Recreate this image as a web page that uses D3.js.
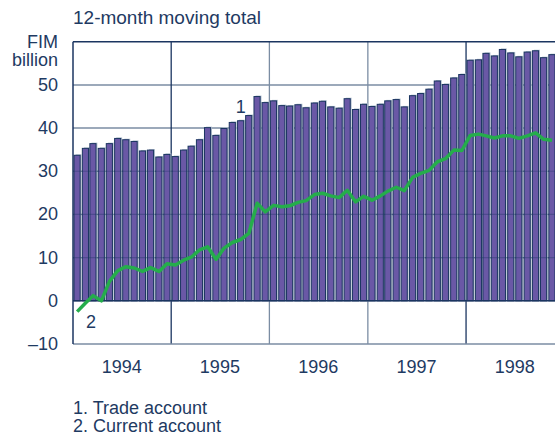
<!DOCTYPE html>
<html>
<head>
<meta charset="utf-8">
<script src="https://cdn.jsdelivr.net/npm/d3@7"></script>
<style>
body { margin: 0; background: #fff; }
svg { display: block; font-family: "Liberation Sans", Arial, sans-serif; }
</style>
</head>
<body>
<svg></svg>
<script>
var width = 555
var height = 435

var years = [1994, 1995, 1996, 1997, 1998]
var yTicks = [-10, 0, 10, 20, 30, 40, 50]

// 1. Trade account, 12-month moving total, Jan 1994 - Nov 1998
var trade = [
	33.7, 35.3, 36.4, 35.3, 36.4, 37.6, 37.3, 36.9, 34.7, 34.9, 33.3, 33.9,
	33.4, 34.9, 35.8, 37.3, 40.1, 38.3, 39.9, 41.3, 41.7, 42.9, 47.3, 45.9,
	46.3, 45.2, 45.1, 45.4, 44.7, 45.8, 46.2, 44.9, 44.6, 46.8, 44.3, 45.5,
	45.0, 45.5, 46.3, 46.6, 44.9, 47.5, 48.0, 49.0, 50.9, 50.1, 51.6, 52.4,
	55.7, 55.8, 57.3, 56.7, 58.2, 57.4, 56.5, 57.6, 57.9, 56.3, 57.0
]

// 2. Current account
var current = [
	-2.5, -0.5, 1.2, 0.0, 4.5, 7.0, 7.9, 7.6, 6.8, 7.7, 6.8, 8.6,
	8.3, 9.4, 10.1, 11.8, 12.5, 9.6, 12.2, 13.5, 14.2, 15.6, 22.6, 20.6,
	22.1, 21.8, 22.0, 22.8, 23.2, 24.6, 24.9, 24.3, 23.9, 25.6, 22.9, 24.2,
	23.3, 24.3, 25.4, 26.3, 25.5, 28.6, 29.5, 30.2, 32.2, 32.9, 34.9, 34.8,
	38.3, 38.6, 38.2, 37.7, 38.2, 38.2, 37.6, 38.2, 38.9, 37.4, 37.2
]

var navy = "#1b3560"
var textCol = "#1e3a62"
var gridCol = "#7b8da3"

var svg = d3.select("svg")
	.attr("width", width)
	.attr("height", height)

var plotLeft = 73, plotTop = 41.7, plotBottom = 344

var x = d3.scaleTime()
	.domain([new Date(1994, 0, 1), new Date(1999, 0, 1)])
	.range([plotLeft, plotLeft + 5 * 98.25])

var y = d3.scaleLinear()
	.domain([-10, 60])
	.range([plotBottom, plotTop])

var months = trade.map(function(d, i){ return new Date(1994, i, 1) })
var step = x(new Date(1994, 1, 1)) - x(new Date(1994, 0, 1))

function mid(i){
	return x(months[i]) + step / 2
}

// horizontal grid
svg.selectAll(".hgrid")
	.data([10, 20, 30, 40, 50])
	.join("line")
	.attr("class", "hgrid")
	.attr("x1", plotLeft)
	.attr("x2", width)
	.attr("y1", function(d){ return y(d) })
	.attr("y2", function(d){ return y(d) })
	.attr("stroke", gridCol)
	.attr("stroke-width", 1.5)

// year separators
svg.selectAll(".vgrid")
	.data(years.slice(1))
	.join("line")
	.attr("class", "vgrid")
	.attr("x1", function(d){ return x(new Date(d, 0, 1)) })
	.attr("x2", function(d){ return x(new Date(d, 0, 1)) })
	.attr("y1", plotTop)
	.attr("y2", plotBottom)
	.attr("stroke", function(d, i){ return (i == 0 || i == 3) ? navy : gridCol })
	.attr("stroke-width", 1.3)

// bar shadows
svg.selectAll(".shadow")
	.data(trade)
	.join("rect")
	.attr("class", "shadow")
	.attr("x", function(d, i){ return x(months[i]) + 2.6 })
	.attr("y", function(d){ return y(d) - 1 })
	.attr("width", step - 2.4)
	.attr("height", function(d){ return y(0) - y(d) })
	.attr("fill", "#b3c1cf")

svg.selectAll(".bar")
	.data(trade)
	.join("rect")
	.attr("class", "bar")
	.attr("x", function(d, i){ return x(months[i]) + 1 })
	.attr("y", function(d){ return y(d) })
	.attr("width", step - 2.2)
	.attr("height", function(d){ return y(0) - y(d) })
	.attr("fill", "#6a58a6")
	.attr("stroke", navy)
	.attr("stroke-width", 1)

// grid showing through bar gaps
svg.selectAll(".hgrid2")
	.data([10, 20, 30])
	.join("line")
	.attr("class", "hgrid2")
	.attr("x1", plotLeft)
	.attr("x2", width)
	.attr("y1", function(d){ return y(d) })
	.attr("y2", function(d){ return y(d) })
	.attr("stroke", navy)
	.attr("stroke-opacity", 0.35)
	.attr("stroke-width", 1.2)

// frame
svg.append("line")
	.attr("x1", plotLeft).attr("x2", width)
	.attr("y1", plotTop).attr("y2", plotTop)
	.attr("stroke", navy).attr("stroke-width", 1.5)
svg.append("line")
	.attr("x1", plotLeft).attr("x2", width)
	.attr("y1", y(0)).attr("y2", y(0))
	.attr("stroke", navy).attr("stroke-width", 1.5)
svg.append("line")
	.attr("x1", plotLeft).attr("x2", width)
	.attr("y1", plotBottom).attr("y2", plotBottom)
	.attr("stroke", gridCol).attr("stroke-width", 1.5)
svg.append("line")
	.attr("x1", plotLeft).attr("x2", plotLeft)
	.attr("y1", plotTop).attr("y2", plotBottom)
	.attr("stroke", navy).attr("stroke-width", 1.5)

var line = d3.line()
	.x(function(d, i){ return mid(i) })
	.y(function(d){ return y(d) })

svg.append("path")
	.datum(current)
	.attr("d", line)
	.attr("fill", "none")
	.attr("stroke", "#25ad4b")
	.attr("stroke-width", 3.5)
	.attr("stroke-linejoin", "round")

// y tick labels
svg.selectAll(".ylab")
	.data(yTicks)
	.join("text")
	.attr("class", "ylab")
	.attr("x", 58)
	.attr("y", function(d){ return y(d) + 6 })
	.attr("text-anchor", "end")
	.attr("font-size", 18)
	.attr("fill", textCol)
	.text(function(d){ return d < 0 ? "\u2013" + Math.abs(d) : d })

// year labels
svg.selectAll(".xlab")
	.data(years)
	.join("text")
	.attr("class", "xlab")
	.attr("x", function(d){ return x(new Date(d, 6, 1)) })
	.attr("y", 373)
	.attr("text-anchor", "middle")
	.attr("font-size", 18)
	.attr("fill", textCol)
	.text(function(d){ return d })

function label(txt, px, py, anchor, size){
	svg.append("text")
		.attr("x", px)
		.attr("y", py)
		.attr("text-anchor", anchor || "start")
		.attr("font-size", size || 18)
		.attr("fill", textCol)
		.text(txt)
}

label("12-month moving total", 73, 24, "start", 19)
label("FIM", 58, 48, "end")
label("billion", 58, 66, "end")
label("1", mid(20) - 5, 113)
label("2", 86, 328)
label("1. Trade account", 73, 414)
label("2. Current account", 73, 432)
</script>
</body>
</html>
